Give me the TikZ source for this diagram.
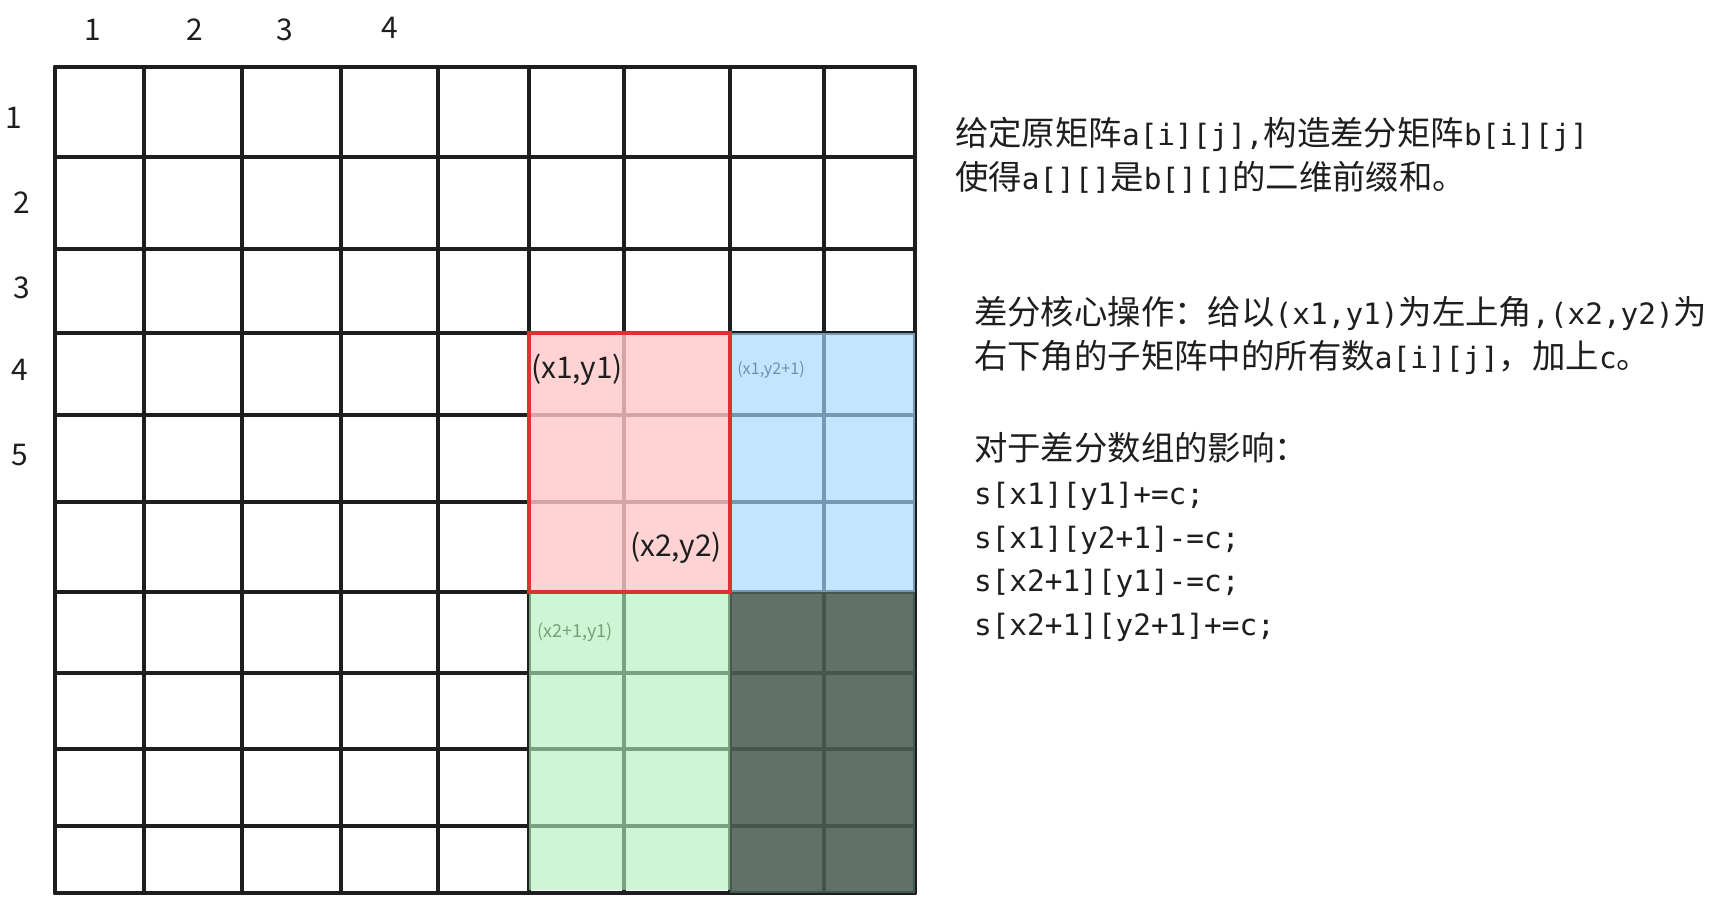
\documentclass[tikz,border=0pt]{standalone}
\usepackage{fontspec}
\setmainfont{Noto Sans CJK SC}
\newfontfamily\lat{DejaVu Sans Mono}[Scale=0.88]
\usepackage{tikz}
\definecolor{ink}{HTML}{1E1E1E}
\definecolor{redfill}{HTML}{FFC9C9}
\definecolor{redline}{HTML}{E03131}
\definecolor{bluefill}{HTML}{A5D8FF}
\definecolor{bluetext}{HTML}{7090B0}
\definecolor{greenfill}{HTML}{B2F2BB}
\definecolor{greentext}{HTML}{74A078}
\definecolor{darkfill}{RGB}{74,94,85}
\newcommand{\colpos}{55,144,242,341,438,529,624,730,824,915}
\newcommand{\rowpos}{67,157,249,333,415,502,592,673,749,826,893}
\tikzset{
  idx/.style={inner sep=0pt, text=ink, font=\fontsize{8.5}{10}\selectfont},
  txt/.style={inner sep=0pt, anchor=west, align=left, text=ink, font=\fontsize{9.5}{12.5}\selectfont},
}

\begin{document}
\begin{tikzpicture}[x=0.01cm, y=-0.01cm, line width=1.15pt, line cap=round]
    \useasboundingbox (0,0) rectangle (1712,907);
    \fill[white] (0,0) rectangle (1712,907);
    % the matrix
    \foreach \y in \rowpos \draw[ink] (55,\y) -- (915,\y);
    \foreach \x in \colpos \draw[ink] (\x,67) -- (\x,893);
    % the four blocks
    \fill[redfill, fill opacity=0.8] (529,333) rectangle (730,592);
    \fill[bluefill, fill opacity=0.66] (730,333) rectangle (915,592);
    \fill[greenfill, fill opacity=0.62] (529,592) rectangle (730,890);
    \fill[darkfill, fill opacity=0.88] (730,592) rectangle (915,893);
    \draw[redline, line width=1pt] (529,333) rectangle (730,592);
    % indices
    \node[idx] (c1) at (93,30) {1};
    \node[idx] (c2) at (195,30) {2};
    \node[idx] (c3) at (285,30) {3};
    \node[idx] (c4) at (390,28) {4};
    \node[idx] (r1) at (14,118) {1};
    \node[idx] (r2) at (22,203) {2};
    \node[idx] (r3) at (22,288) {3};
    \node[idx] (r4) at (20,370) {4};
    \node[idx] (r5) at (20,455) {5};
    % corners
    \node[idx] (tl) at (577,370) {(x1,y1)};
    \node[idx] (br) at (676,548) {(x2,y2)};
    \node[idx, text=bluetext, font=\fontsize{4.6}{5}\selectfont] (tr) at (771,370) {(x1,y2+1)};
    \node[idx, text=greentext, font=\fontsize{5.1}{6}\selectfont] (bl) at (575,632) {(x2+1,y1)};
    % notes
    \node[txt] (intro) at (953,155) {给定原矩阵{\lat a[i][j],}构造差分矩阵{\lat b[i][j]}\\使得{\lat a[][]}是{\lat b[][]}的二维前缀和。};
    \node[txt] (core) at (972,335) {差分核心操作：给以{\lat (x1,y1)}为左上角{\lat ,(x2,y2)}为\\右下角的子矩阵中的所有数{\lat a[i][j]}，加上{\lat c}。};
    \node[txt] (effect) at (972,537) {对于差分数组的影响：\\{\lat s[x1][y1]+=c;}\\{\lat s[x1][y2+1]-=c;}\\{\lat s[x2+1][y1]-=c;}\\{\lat s[x2+1][y2+1]+=c;}};
\end{tikzpicture}
\end{document}
